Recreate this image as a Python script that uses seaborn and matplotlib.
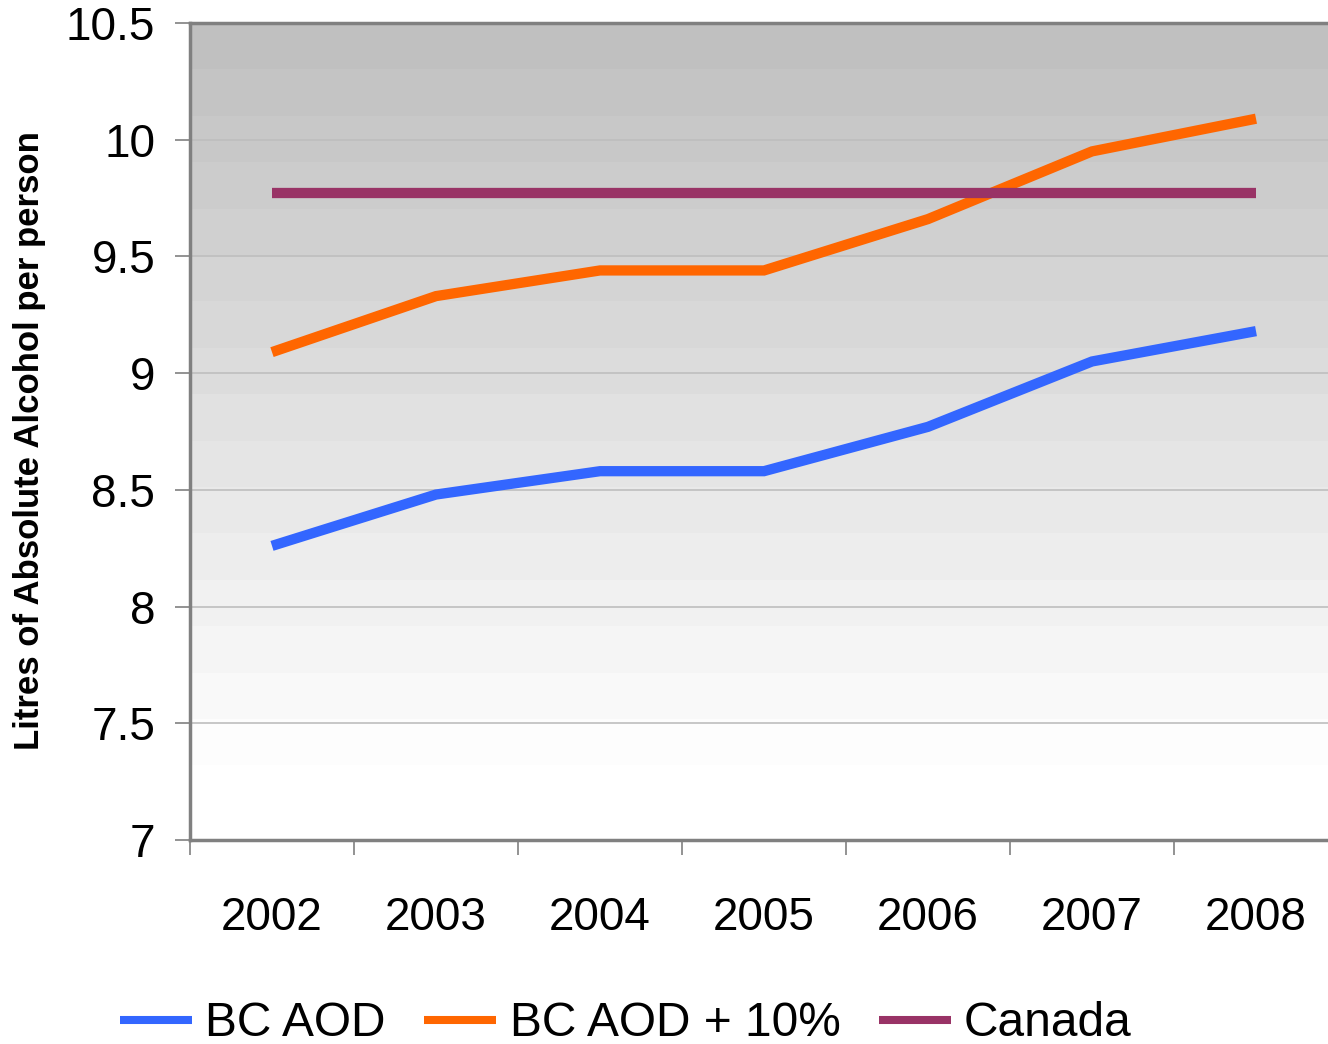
import numpy as np
import pandas as pd
import matplotlib
matplotlib.use("Agg")
import matplotlib.pyplot as plt
import seaborn as sns

years = ["2002", "2003", "2004", "2005", "2006", "2007", "2008"]
bc_aod = [8.26, 8.48, 8.58, 8.58, 8.77, 9.05, 9.18]
bc_aod_10 = [9.09, 9.33, 9.44, 9.44, 9.66, 9.95, 10.09]
canada = [9.77, 9.77, 9.77, 9.77, 9.77, 9.77, 9.77]

series = {"BC AOD": bc_aod, "BC AOD + 10%": bc_aod_10, "Canada": canada}
palette = {"BC AOD": "#3366FF", "BC AOD + 10%": "#FF6600", "Canada": "#993366"}

df = pd.concat([
    pd.DataFrame({"pos": np.arange(len(years)), "value": vals, "series": name})
    for name, vals in series.items()
], ignore_index=True)

sns.set_theme(style="white")
plt.rcParams["font.family"] = ["Liberation Sans", "DejaVu Sans"]
plt.rcParams["text.color"] = "black"
plt.rcParams["xtick.labelcolor"] = "black"
plt.rcParams["ytick.labelcolor"] = "black"

fig = plt.figure(figsize=(13.28, 10.44), dpi=100)
ax = fig.add_axes([190 / 1328, 1 - 840 / 1044, 1148 / 1328, 817 / 1044])

ymin, ymax = 7.0, 10.5
# banded gray-to-white gradient background
nb = 16
grad_top, grad_bot = 10.5, 7.32
edges = np.linspace(grad_top, grad_bot, nb + 1)
for i in range(nb):
    g = 192 + (253 - 192) * i / (nb - 1)
    ax.axhspan(edges[i + 1], edges[i], color=(g / 255,) * 3, lw=0, zorder=0)

for y in np.arange(7.5, 10.5, 0.5):
    ax.axhline(y, color="#BEBEBE", lw=1.2, zorder=1)

sns.lineplot(data=df, x="pos", y="value", hue="series", palette=palette,
             lw=7.4, ax=ax, zorder=3, legend=False)
for ln in ax.lines[-3:]:
    ln.set_solid_capstyle("butt")
    ln.set_solid_joinstyle("miter")

ax.set_xlim(-0.5, 6.5)
ax.set_ylim(ymin, ymax)
ax.set_yticks(np.arange(7, 10.51, 0.5))
ax.set_yticklabels(["7", "7.5", "8", "8.5", "9", "9.5", "10", "10.5"])
ax.set_xticks(np.arange(len(years)))
ax.set_xticklabels(years)
ax.set_xticks(np.arange(-0.5, 7.0, 1.0), minor=True)
ax.tick_params(axis="x", which="major", length=0, pad=40, labelsize=33)
ax.tick_params(axis="x", which="minor", length=11, width=1.2, color="#808080",
               direction="out", bottom=True)
ax.tick_params(axis="y", length=11, width=1.2, color="#808080", direction="out",
               pad=14, labelsize=33, left=True)
ax.set_xlabel("")
ax.set_ylabel("")

for side in ["left", "top", "bottom"]:
    ax.spines[side].set_color("#808080")
    ax.spines[side].set_linewidth(2.5)
    ax.spines[side].set_zorder(4)
ax.spines["right"].set_visible(False)

fig.text(30 / 1328, 1 - 441 / 1044, "Litres of Absolute Alcohol per person",
         rotation=90, ha="center", va="center", fontsize=25, fontweight="bold")

handles = [plt.Line2D([], [], color=palette[n], lw=5.8, solid_capstyle="butt")
           for n in series]
fig.legend(handles, list(series), loc="center", ncol=3, frameon=False,
           bbox_to_anchor=(626 / 1328, 1 - 1024 / 1044), fontsize=34.5,
           handlelength=1.5, handletextpad=0.28, columnspacing=0.8,
           borderpad=0, borderaxespad=0)

fig.savefig("out.png", dpi=100)
